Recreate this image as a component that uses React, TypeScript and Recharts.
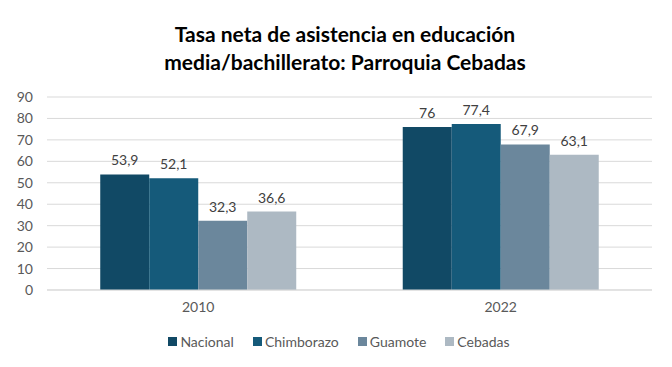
import { BarChart, Bar, XAxis, YAxis, CartesianGrid, Legend, LabelList } from "recharts";

const years = ["2010", "2022"];
const nacional = [53.9, 76];
const chimborazo = [52.1, 77.4];
const guamote = [32.3, 67.9];
const cebadas = [36.6, 63.1];
const yTicks = [0, 10, 20, 30, 40, 50, 60, 70, 80, 90];

const series = [
  { key: "Nacional", color: "#114965" },
  { key: "Chimborazo", color: "#155a7a" },
  { key: "Guamote", color: "#6b879c" },
  { key: "Cebadas", color: "#adb9c3" },
];

const data = years.map((y, i) => ({
  year: y,
  Nacional: nacional[i],
  Chimborazo: chimborazo[i],
  Guamote: guamote[i],
  Cebadas: cebadas[i],
}));

const fmt = (v: any) => String(v).replace(".", ",");
const font = "Lato, 'Open Sans', sans-serif";

function LegendContent() {
  return (
    <div style={{ display: "flex", justifyContent: "center", gap: 19, fontSize: 14, color: "#595959", fontFamily: font, paddingLeft: 26 }}>
      {series.map((s) => (
        <div key={s.key} style={{ display: "flex", alignItems: "center", gap: 3 }}>
          <span style={{ width: 9, height: 9, background: s.color, display: "inline-block" }} />
          <span>{s.key}</span>
        </div>
      ))}
    </div>
  );
}

export default function App() {
  return (
    <div style={{ position: "absolute", left: 0, top: 0, width: 672, height: 367, background: "#fff", fontFamily: font }}>
      <div
        style={{
          position: "absolute",
          top: 20,
          left: 0,
          width: 672,
          textAlign: "center",
          fontWeight: 700,
          fontSize: 21,
          lineHeight: "28px",
          color: "#000",
          paddingLeft: 18,
          boxSizing: "border-box",
        }}
      >
        Tasa neta de asistencia en educación
        <br />
        media/bachillerato: Parroquia Cebadas
      </div>
      <BarChart
        width={672}
        height={367}
        data={data}
        margin={{ top: 97, right: 20, left: 0, bottom: 14 }}
        barGap={0}
        barCategoryGap="17.6%"
      >
        <CartesianGrid vertical={false} stroke="#d9d9d9" />
        <XAxis
          dataKey="year"
          tickLine={false}
          axisLine={{ stroke: "#d9d9d9" }}
          tick={{ fontSize: 14, fill: "#595959", fontFamily: font }}
          tickMargin={6}
          height={43}
        />
        <YAxis
          width={47}
          domain={[0, 90]}
          ticks={yTicks}
          interval={0}
          tickLine={false}
          axisLine={false}
          tickMargin={8}
          tick={{ fontSize: 14, fill: "#595959", fontFamily: font }}
        />
        <Legend verticalAlign="bottom" height={20} content={<LegendContent />} />
        {series.map((s) => (
          <Bar key={s.key} dataKey={s.key} fill={s.color} isAnimationActive={false}>
            <LabelList dataKey={s.key} position="top" offset={9} formatter={fmt} style={{ fontSize: 14, fill: "#404040", fontFamily: font }} />
          </Bar>
        ))}
      </BarChart>
    </div>
  );
}
